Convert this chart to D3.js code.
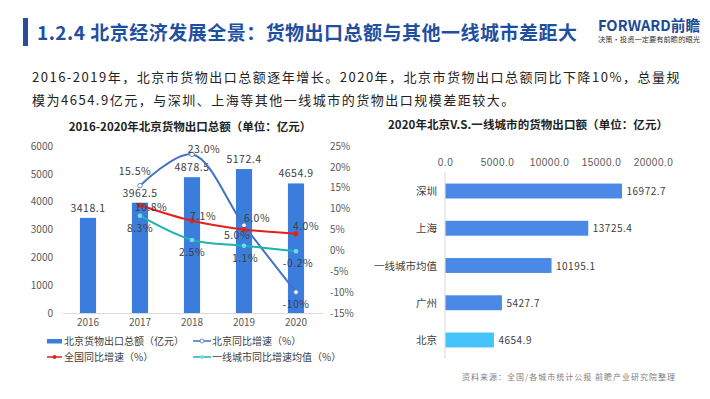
<!DOCTYPE html>
<html>
<head>
<meta charset="utf-8">
<script src="https://cdn.jsdelivr.net/npm/d3@7"></script>
<style>
  body { margin: 0; background: #fff; }
  svg { font-family: "Noto Sans CJK SC", "Noto Sans", sans-serif; display: block; }
</style>
</head>
<body>
<script>
// ---- data ----
var years = ["2016", "2017", "2018", "2019", "2020"];
var exportTotal = [3418.1, 3962.5, 4878.5, 5172.4, 4654.9];
var bjGrowth = [null, 15.5, 23.0, 6.0, -10];
var bjGrowthLabels = ["", "15.5%", "23.0%", "6.0%", "-10%"];
var natGrowth = [null, 10.8, 7.1, 5.0, 4.0];
var tier1Growth = [null, 8.3, 2.5, 1.1, -0.2];
var leftTicks = [0, 1000, 2000, 3000, 4000, 5000, 6000];
var rightTicks = [-15, -10, -5, 0, 5, 10, 15, 20, 25];

var cities = ["深圳", "上海", "一线城市均值", "广州", "北京"];
var cityExport = [16972.7, 13725.4, 10195.1, 5427.7, 4654.9];
var cityTicks = [0, 5000, 10000, 15000, 20000];

// label offsets (layout only)
var bjOff = [null, [-5, -15], [12, -5], [13, -7], [0, 12]];
var natOff = [null, [11, 2], [11, -5], [-7, 5], [10, -8]];
var tierOff = [null, [0, 12], [0, 12], [1, 12], [2, 12]];

var W = 710, H = 399;
var svg = d3.select("body").append("svg").attr("width", W).attr("height", H);

// ---- header ----
svg.append("rect").attr("x", 23).attr("y", 18).attr("width", 5).attr("height", 28).attr("fill", "#2a4c9c");
svg.append("text").attr("x", 37).attr("y", 40)
  .attr("font-size", 19).attr("font-weight", 700).attr("fill", "#1f4fa0")
  .attr("textLength", 540).attr("lengthAdjust", "spacing")
  .text("1.2.4 北京经济发展全景：货物出口总额与其他一线城市差距大");

svg.append("text").attr("x", 598).attr("y", 31)
  .attr("font-size", 15).attr("font-weight", 700).attr("fill", "#1c4b94")
  .attr("textLength", 102).attr("lengthAdjust", "spacingAndGlyphs")
  .text("FORWARD前瞻");
svg.append("text").attr("x", 598).attr("y", 42)
  .attr("font-size", 7).attr("fill", "#333")
  .attr("textLength", 102).attr("lengthAdjust", "spacingAndGlyphs")
  .text("决策·投资一定要有前瞻的眼光");

svg.append("text").attr("x", 32).attr("y", 82)
  .attr("font-size", 13).attr("fill", "#222").attr("letter-spacing", 1.5)
  .text("2016-2019年，北京市货物出口总额逐年增长。2020年，北京市货物出口总额同比下降10%，总量规");
svg.append("text").attr("x", 32).attr("y", 105)
  .attr("font-size", 13).attr("fill", "#222").attr("letter-spacing", 1.5)
  .text("模为4654.9亿元，与深圳、上海等其他一线城市的货物出口规模差距较大。");

// ---- left chart ----
var x = d3.scaleBand().domain(years).range([62, 322]).paddingInner(0.69).paddingOuter(0.345);
var y0 = d3.scaleLinear().domain([0, 6000]).range([313, 146]);
var y1 = d3.scaleLinear().domain([-15, 25]).range([313, 146]);
var cx = function(i) { return x(years[i]) + x.bandwidth() / 2; };

svg.append("text").attr("x", 190).attr("y", 131).attr("text-anchor", "middle")
  .attr("font-size", 11.5).attr("font-weight", 700).attr("fill", "#222")
  .text("2016-2020年北京货物出口总额（单位：亿元）");

var axL = svg.append("g").attr("transform", "translate(56,0)")
  .call(d3.axisLeft(y0).tickValues(leftTicks).tickSize(0).tickPadding(3).tickFormat(d3.format("d")));
var axR = svg.append("g").attr("transform", "translate(327,0)")
  .call(d3.axisRight(y1).tickValues(rightTicks).tickSize(0).tickPadding(3).tickFormat(function(d) { return d + "%"; }));
var axB = svg.append("g").attr("transform", "translate(0,313)")
  .call(d3.axisBottom(x).tickSize(0).tickPadding(6));
[axL, axR].forEach(function(a) { a.select(".domain").remove(); });
axB.select(".domain").attr("stroke", "#d9d9d9");
svg.selectAll(".tick text").attr("font-size", 10).attr("fill", "#595959")
  .attr("font-family", "'Noto Sans CJK SC', sans-serif");

svg.selectAll(".bar").data(exportTotal).enter().append("rect")
  .attr("x", function(d, i) { return x(years[i]); })
  .attr("y", function(d) { return y0(d); })
  .attr("width", x.bandwidth())
  .attr("height", function(d) { return y0(0) - y0(d); })
  .attr("fill", "#3b7ddd");

svg.selectAll(".barlab").data(exportTotal).enter().append("text")
  .attr("x", function(d, i) { return cx(i); })
  .attr("y", function(d) { return y0(d) - 6; })
  .attr("text-anchor", "middle").attr("font-size", 10.5).attr("fill", "#404040")
  .attr("letter-spacing", 0.5)
  .text(function(d) { return d.toFixed(1); });

function series(vals, color, curve) {
  var pts = vals.map(function(v, i) { return v == null ? null : [cx(i), y1(v)]; }).filter(Boolean);
  svg.append("path").attr("d", d3.line().curve(curve)(pts))
    .attr("fill", "none").attr("stroke", color).attr("stroke-width", 2);
  return pts;
}

var bjPts = series(bjGrowth, "#4472c4", d3.curveCatmullRom.alpha(0.5));
var natPts = series(natGrowth, "#e3211c", d3.curveCatmullRom.alpha(0.5));
var tierPts = series(tier1Growth, "#1fb3ae", d3.curveCatmullRom.alpha(0.5));

svg.selectAll(".m1").data(bjPts).enter().append("circle")
  .attr("cx", function(d) { return d[0]; }).attr("cy", function(d) { return d[1]; })
  .attr("r", 2.3).attr("fill", "#fff").attr("stroke", "#4472c4").attr("stroke-width", 0.8);
svg.selectAll(".m2").data(natPts).enter().append("circle")
  .attr("cx", function(d) { return d[0]; }).attr("cy", function(d) { return d[1]; })
  .attr("r", 2.5).attr("fill", "#e3211c");
svg.selectAll(".m3").data(tierPts).enter().append("circle")
  .attr("cx", function(d) { return d[0]; }).attr("cy", function(d) { return d[1]; })
  .attr("r", 2.3).attr("fill", "#6fdcec");

function labels(vals, offs, fmt) {
  vals.forEach(function(v, i) {
    if (v == null) return;
    svg.append("text")
      .attr("x", cx(i) + offs[i][0]).attr("y", y1(v) + offs[i][1] + 4)
      .attr("text-anchor", "middle").attr("font-size", 10.5).attr("fill", "#404040")
      .attr("letter-spacing", 0.5)
      .text(fmt(v, i));
  });
}
labels(bjGrowth, bjOff, function(v, i) { return bjGrowthLabels[i]; });
labels(natGrowth, natOff, function(v) { return v.toFixed(1) + "%"; });
labels(tier1Growth, tierOff, function(v) { return v.toFixed(1) + "%"; });

// legend
var lg = svg.append("g").attr("font-size", 10).attr("fill", "#404040");
lg.append("rect").attr("x", 47).attr("y", 339).attr("width", 15).attr("height", 4.5).attr("fill", "#3b7ddd");
lg.append("text").attr("x", 64).attr("y", 345).text("北京货物出口总额（亿元）");
lg.append("line").attr("x1", 193).attr("x2", 211).attr("y1", 341).attr("y2", 341).attr("stroke", "#4472c4").attr("stroke-width", 1.5);
lg.append("circle").attr("cx", 202).attr("cy", 341).attr("r", 2).attr("fill", "#fff").attr("stroke", "#4472c4").attr("stroke-width", 0.8);
lg.append("text").attr("x", 212).attr("y", 345).text("北京同比增速（%）");
lg.append("line").attr("x1", 47).attr("x2", 62).attr("y1", 357).attr("y2", 357).attr("stroke", "#e3211c").attr("stroke-width", 1.5);
lg.append("circle").attr("cx", 54.5).attr("cy", 357).attr("r", 2).attr("fill", "#e3211c");
lg.append("text").attr("x", 64).attr("y", 361).text("全国同比增速（%）");
lg.append("line").attr("x1", 193).attr("x2", 211).attr("y1", 357).attr("y2", 357).attr("stroke", "#1fb3ae").attr("stroke-width", 1.5);
lg.append("circle").attr("cx", 202).attr("cy", 357).attr("r", 2).attr("fill", "#6fdcec");
lg.append("text").attr("x", 212).attr("y", 361).text("一线城市同比增速均值（%）");

// ---- right chart ----
svg.append("text").attr("x", 388).attr("y", 129)
  .attr("font-size", 11.5).attr("font-weight", 700).attr("fill", "#222")
  .attr("textLength", 280).attr("lengthAdjust", "spacing")
  .text("2020年北京V.S.一线城市的货物出口额（单位：亿元）");

var xc = d3.scaleLinear().domain([0, 20000]).range([445, 653]);
var yc = d3.scaleBand().domain(cities).range([172.4, 358.6]).paddingInner(0.6).paddingOuter(0.3);

var axT = svg.append("g").attr("transform", "translate(0,158)")
  .call(d3.axisTop(xc).tickValues(cityTicks).tickSize(0).tickPadding(-8).tickFormat(d3.format(".1f")));
axT.select(".domain").remove();
axT.selectAll("text").attr("font-size", 10).attr("fill", "#595959").attr("letter-spacing", 0.5);

svg.append("line").attr("x1", 445).attr("x2", 445).attr("y1", 172).attr("y2", 359)
  .attr("stroke", "#d9d9d9");

svg.selectAll(".cbar").data(cityExport).enter().append("rect")
  .attr("x", xc(0) + 0.5)
  .attr("y", function(d, i) { return yc(cities[i]); })
  .attr("width", function(d) { return xc(d) - xc(0); })
  .attr("height", yc.bandwidth())
  .attr("fill", function(d, i) { return cities[i] === "北京" ? "#45c3fb" : "#4a89e6"; });

svg.selectAll(".clab").data(cities).enter().append("text")
  .attr("x", 437).attr("y", function(d) { return yc(d) + yc.bandwidth() / 2 + 4; })
  .attr("text-anchor", "end").attr("font-size", 10.5).attr("fill", "#404040")
  .text(function(d) { return d; });

svg.selectAll(".cval").data(cityExport).enter().append("text")
  .attr("x", function(d) { return xc(d) + 5; })
  .attr("y", function(d, i) { return yc(cities[i]) + yc.bandwidth() / 2 + 4; })
  .attr("font-size", 10).attr("fill", "#404040").attr("letter-spacing", 0.5)
  .text(function(d) { return d.toFixed(1); });

svg.append("text").attr("x", 462).attr("y", 380)
  .attr("font-size", 8).attr("fill", "#808080")
  .attr("textLength", 213).attr("lengthAdjust", "spacing")
  .text("资料来源：全国/各城市统计公报  前瞻产业研究院整理");
</script>
</body>
</html>
